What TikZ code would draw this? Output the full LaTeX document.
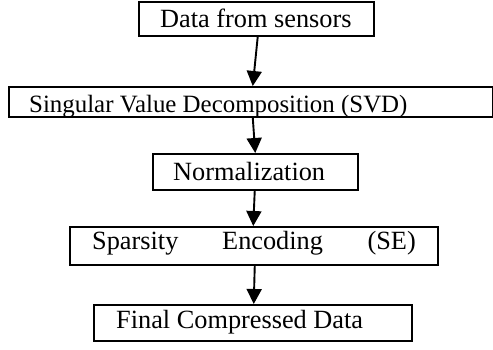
\documentclass[tikz,border=0pt]{standalone}
\usepackage{fontspec}
\setmainfont{Liberation Serif}
\usetikzlibrary{arrows.meta}
\begin{document}
\begin{tikzpicture}[x=1pt,y=-1pt,
  boxstyle/.style={draw=black,line width=1.5pt,inner sep=0pt,anchor=north west},
  txt/.style={inner sep=0pt,font=\fontsize{26.3}{30}\selectfont,anchor=base west},
  arr/.style={line width=1.9pt,-{Triangle[length=15pt,width=15pt]}}]
\useasboundingbox (0,0) rectangle (493,349);
\node[boxstyle,minimum width=235pt,minimum height=34pt] (b1) at (138,1) {};
\node[boxstyle,minimum width=484pt,minimum height=30pt] (b2) at (8,86) {};
\node[boxstyle,minimum width=205pt,minimum height=36pt] (b3) at (152,153) {};
\node[boxstyle,minimum width=368pt,minimum height=38pt] (b4) at (69,226) {};
\node[boxstyle,minimum width=318pt,minimum height=36pt] (b5) at (93,304) {};
\node[txt] (t1) at (160,27) {Data from sensors};
\node[txt,font=\fontsize{24.9}{28}\selectfont] (t2) at (29,112) {Singular Value Decomposition (SVD)};
\node[txt] (t3) at (173,180) {Normalization};
\node[txt] (t4a) at (92,249) {Sparsity};
\node[txt] (t4b) at (222,249) {Encoding};
\node[txt,anchor=base east] (t4c) at (416,249) {(SE)};
\node[txt] (t5) at (116,328) {Final Compressed Data};
\draw[arr] ([xshift=1.5pt]b1.south) -- ([xshift=2pt]b2.north);
\draw[arr] ([xshift=2pt]b2.south) -- ([xshift=0pt]b3.north);
\draw[arr] ([xshift=-0.5pt]b3.south) -- ([xshift=-0.5pt]b4.north);
\draw[arr] ([xshift=1pt]b4.south) -- ([xshift=1pt]b5.north);
\end{tikzpicture}
\end{document}
